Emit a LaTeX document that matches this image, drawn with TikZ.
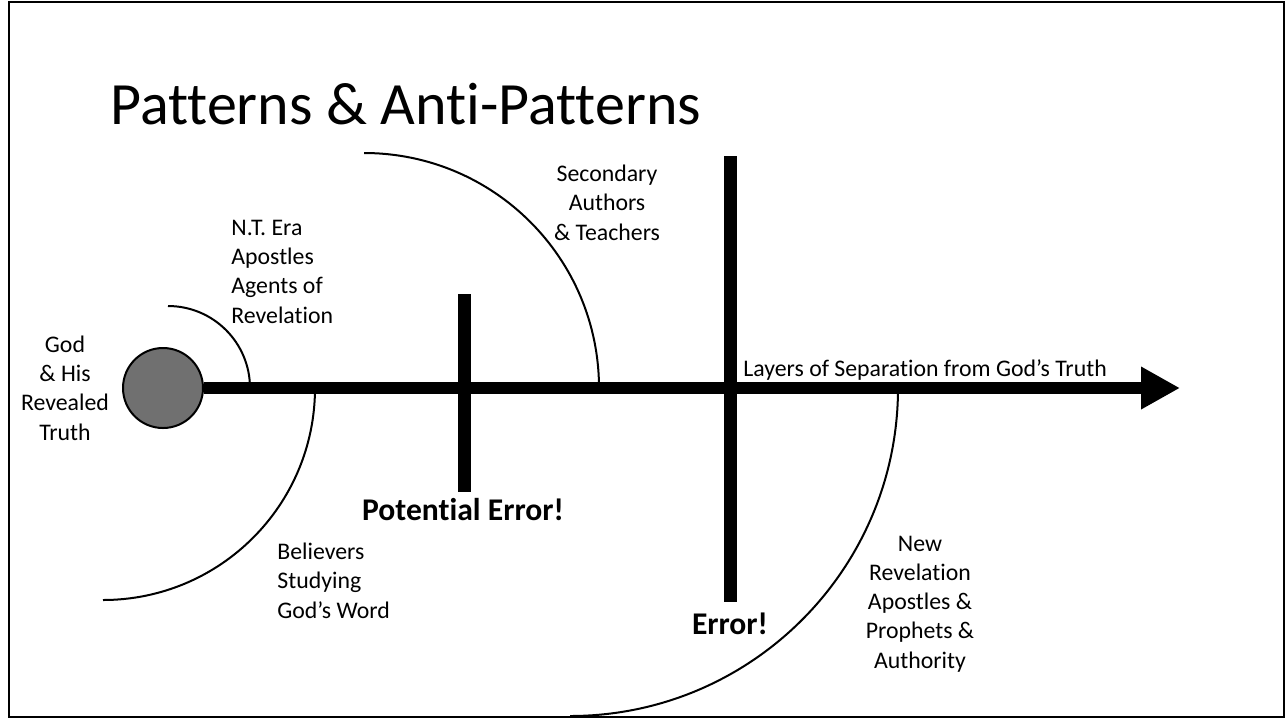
\documentclass[tikz,border=0pt]{standalone}
\usepackage{fontspec}
\setmainfont{Carlito}[Ligatures=NoCommon]
\usetikzlibrary{arrows.meta}
\begin{document}
\begin{tikzpicture}[x=0.5pt,y=-0.5pt,
	lbl/.style={inner sep=0pt,font=\fontsize{11.9}{14.6}\selectfont},
	warn/.style={inner sep=0pt,anchor=base,font=\fontsize{15.8}{19}\selectfont\bfseries},
	bar/.style={line width=6.5pt},
	layer/.style={line width=1pt}]
	\useasboundingbox (0,0) rectangle (1288,719);
	\draw[line width=1pt] (9,1.5) rectangle (1284,717);
	\node[inner sep=0pt,anchor=base west,font=\fontsize{30}{36}\selectfont] (title) at (110,124) {Patterns \& Anti-Patterns};
	\node[circle,draw,line width=1pt,fill={rgb,255:red,112;green,112;blue,112},minimum size=40pt,inner sep=0pt] (god) at (163,388) {};
	\coordinate (tip) at (1180,388);
	\draw[line width=6pt,-{Triangle[length=19.5pt,width=20pt]}] (god.east) -- (tip);
	\draw[bar] (464,294) -- (464,492);
	\draw[bar] (730,156) -- (730,602);
	% layers round the source
	\draw[layer] (168,306) arc (90:0:41pt);
	\draw[layer] (315,388) arc (0:-90:106pt);
	\draw[layer] (364,153) arc (90:0:117.5pt);
	\draw[layer] (898,388) arc (0:-90:164pt);
	\node[lbl,anchor=base,align=center] (godlbl) at (65,440) {God\\\& His\\Revealed\\Truth};
	\node[lbl,anchor=base west,align=left] (ntera) at (231,323) {N.T. Era\\Apostles\\Agents of\\Revelation};
	\node[lbl,anchor=base,align=center] (second) at (607,240) {Secondary\\Authors\\\& Teachers};
	\node[lbl,anchor=base west] (layers) at (743,376) {Layers of Separation from God’s Truth};
	\node[lbl,anchor=base west,align=left] (believers) at (277,618) {Believers\\Studying\\God’s Word};
	\node[lbl,anchor=base,align=center] (newrev) at (920,668) {New\\Revelation\\Apostles \&\\Prophets \&\\Authority};
	\node[warn] (potential) at (463,520) {Potential Error!};
	\node[warn] (error) at (730,634) {Error!};
\end{tikzpicture}
\end{document}
